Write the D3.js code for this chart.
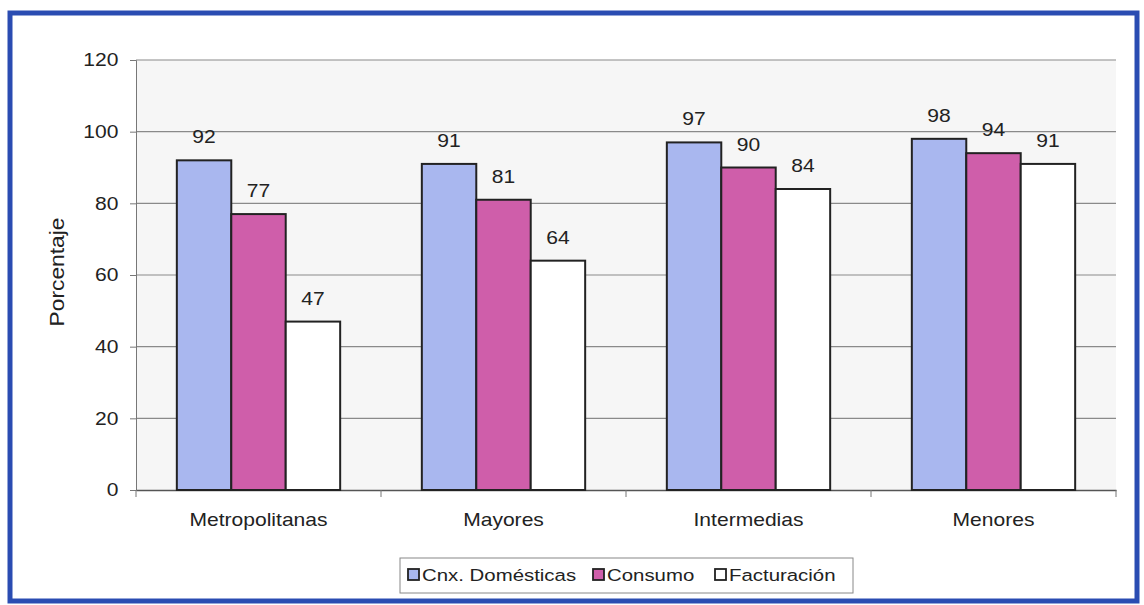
<!DOCTYPE html>
<html><head><meta charset="utf-8">
<script src="https://cdn.jsdelivr.net/npm/d3@7"></script>
<style>body{margin:0;background:#fff;}svg{display:block;font-family:"Liberation Sans",Arial,sans-serif;}</style>
</head><body><svg id="c" width="1144" height="605"></svg>
<script>
const categories = ["Metropolitanas","Mayores","Intermedias","Menores"];
const seriesNames = ["Cnx. Domésticas","Consumo","Facturación"];
const cnx = [92,91,97,98];
const consumo = [77,81,90,94];
const facturacion = [47,64,84,91];
const yTicks = [0,20,40,60,80,100,120];
const colors = ["#a9b7ef","#cf5eaa","#ffffff"];
const SX = 1.17;

const svg = d3.select("#c");
svg.append("rect").attr("x",10).attr("y",13).attr("width",1127).attr("height",588)
  .attr("fill","#fff").attr("stroke","#2a4cb2").attr("stroke-width",5);

const L=136,R=1116,T=60,B=490;
const x = d3.scaleBand().domain(categories).range([L,R]);
const xi = d3.scaleBand().domain(seriesNames).range([0,x.bandwidth()]).paddingOuter(0.75).paddingInner(0);
const y = d3.scaleLinear().domain([0,120]).range([B,T]);

svg.append("rect").attr("x",L).attr("y",T).attr("width",R-L).attr("height",B-T).attr("fill","#f6f6f6");
svg.append("g").selectAll("line").data(yTicks.filter(d=>d>0)).join("line")
  .attr("x1",L).attr("x2",R).attr("y1",d=>y(d)).attr("y2",d=>y(d)).attr("stroke","#8a8a8a").attr("stroke-width",1.2);

const yAxis = svg.append("g").attr("transform",`translate(${L},0)`)
  .call(d3.axisLeft(y).tickValues(yTicks).tickSize(6).tickPadding(9));
yAxis.select(".domain").attr("stroke","#777");
yAxis.selectAll(".tick line").attr("stroke","#777");
yAxis.selectAll("text").attr("font-size",18).attr("fill","#222").attr("transform",`scale(${SX},1)`);

const xAxis = svg.append("g").attr("transform",`translate(0,${B})`)
  .call(d3.axisBottom(x).tickSize(0).tickPadding(23));
xAxis.select(".domain").attr("stroke","#555").attr("stroke-width",1.5);
xAxis.selectAll("text").attr("font-size",18).attr("fill","#222").attr("transform",`scale(${SX},1)`);
svg.append("g").selectAll("line").data(d3.range(categories.length+1)).join("line")
  .attr("x1",i=>L+i*x.bandwidth()).attr("x2",i=>L+i*x.bandwidth())
  .attr("y1",B).attr("y2",B+7).attr("stroke","#777");

const data = [cnx,consumo,facturacion];
categories.forEach((c,ci)=>{
  seriesNames.forEach((s,si)=>{
    const v = data[si][ci];
    const bx = x(c)+xi(s);
    svg.append("rect").attr("x",bx).attr("y",y(v)).attr("width",xi.bandwidth()).attr("height",B-y(v))
      .attr("fill",colors[si]).attr("stroke","#222").attr("stroke-width",2);
    svg.append("text").attr("transform",`translate(${bx+xi.bandwidth()/2},${y(v)-17}) scale(${SX},1)`)
      .attr("text-anchor","middle").attr("font-size",18).attr("fill","#222").text(v);
  });
});

svg.append("text").attr("transform","translate(64,272) rotate(-90) scale(1.2,1.05)").attr("text-anchor","middle")
  .attr("font-size",19).attr("fill","#222").text("Porcentaje");

const lg = svg.append("g");
lg.append("rect").attr("x",400).attr("y",558).attr("width",453).attr("height",35).attr("fill","#fff").attr("stroke","#888");
const lx=[408,593,715];
seriesNames.forEach((s,i)=>{
  lg.append("rect").attr("x",lx[i]).attr("y",569).attr("width",11).attr("height",11).attr("fill",colors[i]).attr("stroke","#222").attr("stroke-width",1.8);
  lg.append("text").attr("transform",`translate(${lx[i]+14},581) scale(1.2,1)`).attr("font-size",17).attr("fill","#222").text(s);
});
</script></body></html>
